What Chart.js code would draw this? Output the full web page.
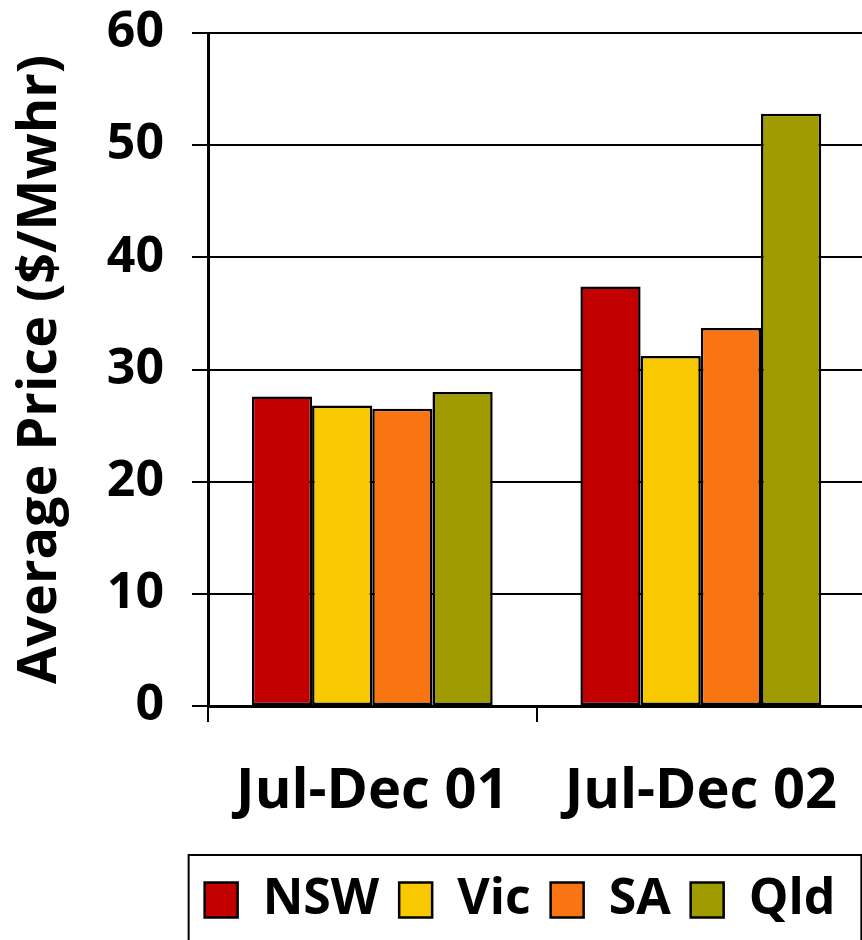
<!DOCTYPE html>
<html lang="en">
<head>
    <meta charset="UTF-8">
    <title>Average Price</title>
    <script src="https://cdn.jsdelivr.net/npm/chart.js@4.4.0/dist/chart.umd.min.js"></script>
    <style>
        body {
            margin: 0;
            background: #fff;
        }
        .wrap {
            width: 862px;
            height: 940px;
            overflow: hidden;
            position: relative;
        }
        .inner {
            position: absolute;
            left: 0;
            top: 0;
            width: 874px;
            height: 960px;
        }
    </style>
</head>
<body>
    <div class="wrap">
        <div class="inner">
            <canvas id="priceChart" width="874" height="960"></canvas>
        </div>
    </div>

    <script>
        const periods = ['Jul-Dec 01', 'Jul-Dec 02'];
        const nsw = [27.6, 37.4];
        const vic = [26.8, 31.2];
        const sa = [26.5, 33.7];
        const qld = [28.0, 52.8];
        const yTicks = [0, 10, 20, 30, 40, 50, 60];

        const FONT = '"Open Sans", sans-serif';

        // shift legend to the right and put a frame round it
        const legendFrame = {
            id: 'legendFrame',
            afterLayout(chart) {
                const lg = chart.legend;
                lg.left += 85;
                lg.right += 85;
            },
            afterDraw(chart) {
                const boxes = chart.legend.legendHitBoxes;
                if (!boxes || !boxes.length) return;
                const first = boxes[0];
                const last = boxes[boxes.length - 1];
                const ctx = chart.ctx;
                ctx.save();
                ctx.strokeStyle = '#000';
                ctx.lineWidth = 2;
                ctx.strokeRect(first.left - 16, chart.legend.top, last.left + last.width - first.left + 42, 120);
                ctx.restore();
            }
        };

        const ctx = document.getElementById('priceChart').getContext('2d');
        new Chart(ctx, {
            type: 'bar',
            data: {
                labels: periods,
                datasets: [
                    { label: 'NSW', data: nsw, backgroundColor: '#C20000' },
                    { label: 'Vic', data: vic, backgroundColor: '#F8C800' },
                    { label: 'SA', data: sa, backgroundColor: '#F97412' },
                    { label: 'Qld', data: qld, backgroundColor: '#A09B00' }
                ].map(d => Object.assign(d, {
                    borderColor: '#000',
                    borderWidth: 2.5,
                    borderSkipped: false,
                    barPercentage: 1,
                    categoryPercentage: 0.733
                }))
            },
            options: {
                responsive: false,
                animation: false,
                layout: {
                    padding: { top: 32, left: 0, right: 4, bottom: 25 }
                },
                scales: {
                    x: {
                        grid: {
                            drawOnChartArea: false,
                            drawTicks: true,
                            tickLength: 16,
                            color: '#000',
                            lineWidth: 2
                        },
                        border: { color: '#000', width: 3 },
                        ticks: {
                            color: '#000',
                            padding: 36,
                            font: { family: FONT, size: 56, weight: 'bold' }
                        },
                        afterFit(scale) { scale.height = 149; }
                    },
                    y: {
                        min: 0,
                        max: 60,
                        afterBuildTicks(scale) {
                            scale.ticks = yTicks.map(v => ({ value: v }));
                        },
                        grid: {
                            color: '#000',
                            lineWidth: 2,
                            drawTicks: true,
                            tickLength: 16
                        },
                        border: { color: '#000', width: 3 },
                        ticks: {
                            color: '#000',
                            padding: 28,
                            font: { family: FONT, size: 50, weight: 'bold', lineHeight: 0.2 }
                        },
                        title: {
                            display: true,
                            text: 'Average Price ($/Mwhr)',
                            color: '#000',
                            padding: { top: 8, bottom: 0 },
                            font: { family: FONT, size: 54, weight: 'bold' }
                        },
                        afterFit(scale) { scale.width = 208; }
                    }
                },
                plugins: {
                    legend: {
                        position: 'bottom',
                        labels: {
                            color: '#000',
                            boxWidth: 33,
                            boxHeight: 35,
                            padding: 20,
                            font: { family: FONT, size: 50, weight: 'bold' }
                        }
                    },
                    tooltip: { enabled: false }
                }
            },
            plugins: [legendFrame]
        });
    </script>
</body>
</html>
